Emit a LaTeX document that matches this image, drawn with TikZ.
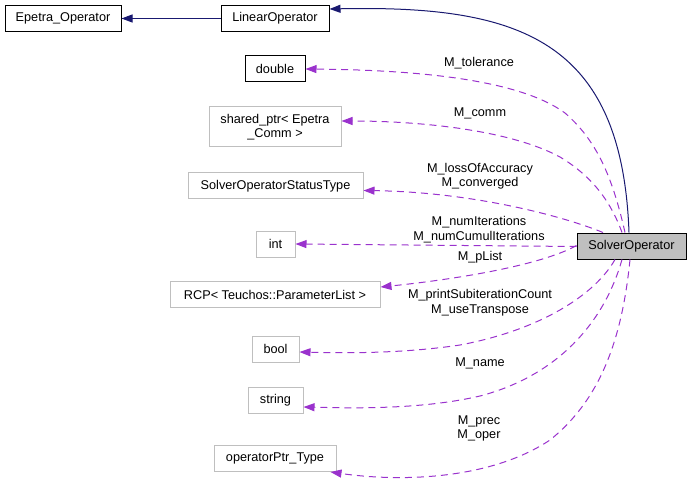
\documentclass[tikz,border=0pt]{standalone}
\usepackage{fontspec}
\setmainfont{Liberation Sans}
\usetikzlibrary{arrows.meta}
\definecolor{navyedge}{HTML}{191970}
\definecolor{purpedge}{HTML}{9A32CD}
\definecolor{graybord}{HTML}{BFBFBF}
\begin{document}
\begin{tikzpicture}[x=1pt,y=-1pt,
  every node/.style={font=\fontsize{12.7}{14.5}\selectfont, inner sep=0pt},
  blk/.style={draw=black, line width=1pt, fill=white, align=center},
  gry/.style={draw=graybord, line width=1pt, fill=white, align=center},
  cur/.style={draw=black, line width=1pt, fill=graybord, align=center},
  inh/.style={draw=navyedge, line width=1pt, -{Triangle[length=11pt,width=8pt]}},
  mem/.style={draw=purpedge, line width=1pt, dash pattern=on 7pt off 5pt, -{Triangle[length=11pt,width=8pt]}},
  lbl/.style={align=center}]
\useasboundingbox (0,0) rectangle (692,486);
% nodes
\node[blk, minimum width=116, minimum height=26] (epop) at (63,18.5) {Epetra\_Operator};
\node[blk, minimum width=108, minimum height=26] (lin) at (275,18.5) {LinearOperator};
\node[blk, minimum width=60, minimum height=26] (dbl) at (275,69) {double};
\node[gry, minimum width=132, minimum height=40] (sp) at (275,127) {shared\_ptr< Epetra\\\_Comm >};
\node[gry, minimum width=175, minimum height=26] (sost) at (275.5,186) {SolverOperatorStatusType};
\node[gry, minimum width=39, minimum height=26] (int) at (275.5,244) {int};
\node[gry, minimum width=210, minimum height=26] (rcp) at (275,294.5) {RCP< Teuchos::ParameterList >};
\node[cur, minimum width=109, minimum height=26] (solver) at (631.5,246) {SolverOperator};
\node[gry, minimum width=47, minimum height=26] (bool) at (275.5,349) {bool};
\node[gry, minimum width=55, minimum height=26] (str) at (275.5,400) {string};
\node[gry, minimum width=122, minimum height=26] (opt) at (275,458.5) {operatorPtr\_Type};
% inheritance
\draw[inh] (lin.west) -- (epop.east);
\draw[inh] ([xshift=-2.5pt]solver.north) .. controls (622,40) and (520,5) .. ([yshift=9.5pt]lin.east);
% members
\draw[mem] ([xshift=-6.5pt]solver.north) .. controls (612,175) and (596,140) .. (565,113)
  .. controls (520,80) and (420,70) .. (dbl.east);
\draw[mem] ([xshift=-9.5pt]solver.north) .. controls (612,205) and (595,178) .. (560,157)
  .. controls (510,130) and (420,121) .. ([yshift=6pt]sp.east);
\draw[mem] ([xshift=-28.5pt]solver.north) .. controls (560,215) and (470,192) .. ([yshift=-4.5pt]sost.east);
\draw[mem] ([yshift=-0.5pt]solver.west) -- (int.east);
\draw[mem] ([yshift=-13pt]solver.north west) .. controls (540,266) and (450,280) .. ([yshift=7.5pt]rcp.east);
\draw[mem] ([xshift=-16.5pt]solver.south) .. controls (595,295) and (540,330) .. (460,345)
  .. controls (400,354) and (340,353) .. ([yshift=-3pt]bool.east);
\draw[mem] ([xshift=-9.5pt]solver.south) .. controls (605,320) and (560,375) .. (480,396)
  .. controls (420,410) and (350,408) .. ([yshift=-7pt]str.east);
\draw[mem] ([xshift=-1.5pt]solver.south) .. controls (622,340) and (600,400) .. (550,440)
  .. controls (490,480) and (400,482) .. ([xshift=-6pt]opt.south east);
% labels
\node[lbl] (l1) at (479,63) {M\_tolerance};
\node[lbl] (l2) at (480,113) {M\_comm};
\node[lbl] (l3) at (480,176) {M\_lossOfAccuracy\\M\_converged};
\node[lbl] (l4) at (479,229.5) {M\_numIterations\\M\_numCumulIterations};
\node[lbl] (l5) at (480,257) {M\_pList};
\node[lbl] (l6) at (480,302.5) {M\_printSubiterationCount\\M\_useTranspose};
\node[lbl] (l7) at (480,363) {M\_name};
\node[lbl] (l8) at (479,428.5) {M\_prec\\M\_oper};
\end{tikzpicture}
\end{document}
